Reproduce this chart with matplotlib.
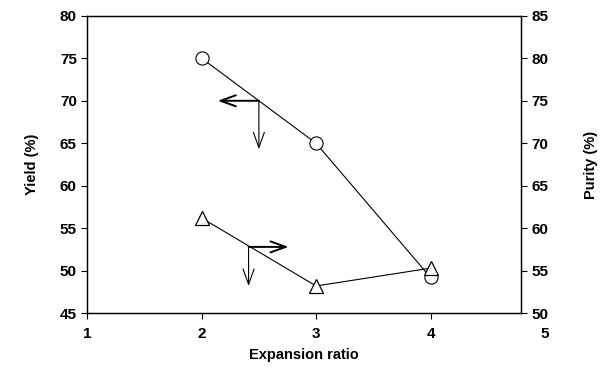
import matplotlib

matplotlib.use("Agg")
import matplotlib.pyplot as plt

plt.rcParams["font.family"] = ["Liberation Sans", "DejaVu Sans"]
plt.rcParams["font.weight"] = "bold"

ratio = [2, 3, 4]
yield_pct = [75, 65, 49.2]
purity_pct = [61.2, 53.2, 55.3]

x_ticks = [1, 2, 3, 4, 5]
yield_ticks = [45, 50, 55, 60, 65, 70, 75, 80]
purity_ticks = [50, 55, 60, 65, 70, 75, 80, 85]

fig, ax = plt.subplots(figsize=(6.1, 3.68), dpi=100)
fig.subplots_adjust(left=0.143, right=0.854, top=0.957, bottom=0.149)
ax2 = ax.twinx()

ax.plot(ratio, yield_pct, color="black", linewidth=0.8, marker="o",
        markersize=9.5, markerfacecolor="white", markeredgecolor="black",
        markeredgewidth=0.8, zorder=3)
ax2.plot(ratio, purity_pct, color="black", linewidth=0.8, marker="^",
         markersize=10, markerfacecolor="white", markeredgecolor="black",
         markeredgewidth=0.9, zorder=3)

# arrows marking which axis each series belongs to
arrow = dict(arrowstyle="->,head_length=0.5,head_width=0.18", color="black",
             shrinkA=0, shrinkB=0, mutation_scale=22)
ax.annotate("", xy=(2.14, 70), xytext=(2.5, 70),
            arrowprops=dict(arrow, linewidth=1.4))
ax.annotate("", xy=(2.5, 64.3), xytext=(2.5, 70),
            arrowprops=dict(arrow, linewidth=0.8))
ax2.annotate("", xy=(2.76, 57.8), xytext=(2.41, 57.8),
             arrowprops=dict(arrow, linewidth=1.4))
ax2.annotate("", xy=(2.41, 53.2), xytext=(2.41, 57.8),
             arrowprops=dict(arrow, linewidth=0.8))

ax.set_xlim(1, 4.79)
ax.set_xticks(x_ticks[:-1])
ax.set_xticklabels([str(t) for t in x_ticks[:-1]])
# the last x label sits past the right spine
ax.annotate(str(x_ticks[-1]), xy=(x_ticks[-1], 0), xycoords=ax.get_xaxis_transform(),
            xytext=(0, -10), textcoords="offset points", ha="center", va="top",
            fontsize=11, fontweight="bold", annotation_clip=False)
ax.set_ylim(45, 80)
ax.set_yticks(yield_ticks)
ax2.set_ylim(50, 85)
ax2.set_yticks(purity_ticks)

for a in (ax, ax2):
    a.tick_params(labelsize=11, length=4, width=0.8, direction="out")
    for s in a.spines.values():
        s.set_linewidth(0.9)
ax.tick_params(axis="x", pad=6)

ax.set_xlabel("Expansion ratio", fontsize=10.5, fontweight="bold", labelpad=5)
ax.set_ylabel("Yield (%)", fontsize=10.5, fontweight="bold", labelpad=15)
ax2.set_ylabel("Purity (%)", fontsize=10.5, fontweight="bold", labelpad=26)

fig.savefig("out.png")
plt.close(fig)
